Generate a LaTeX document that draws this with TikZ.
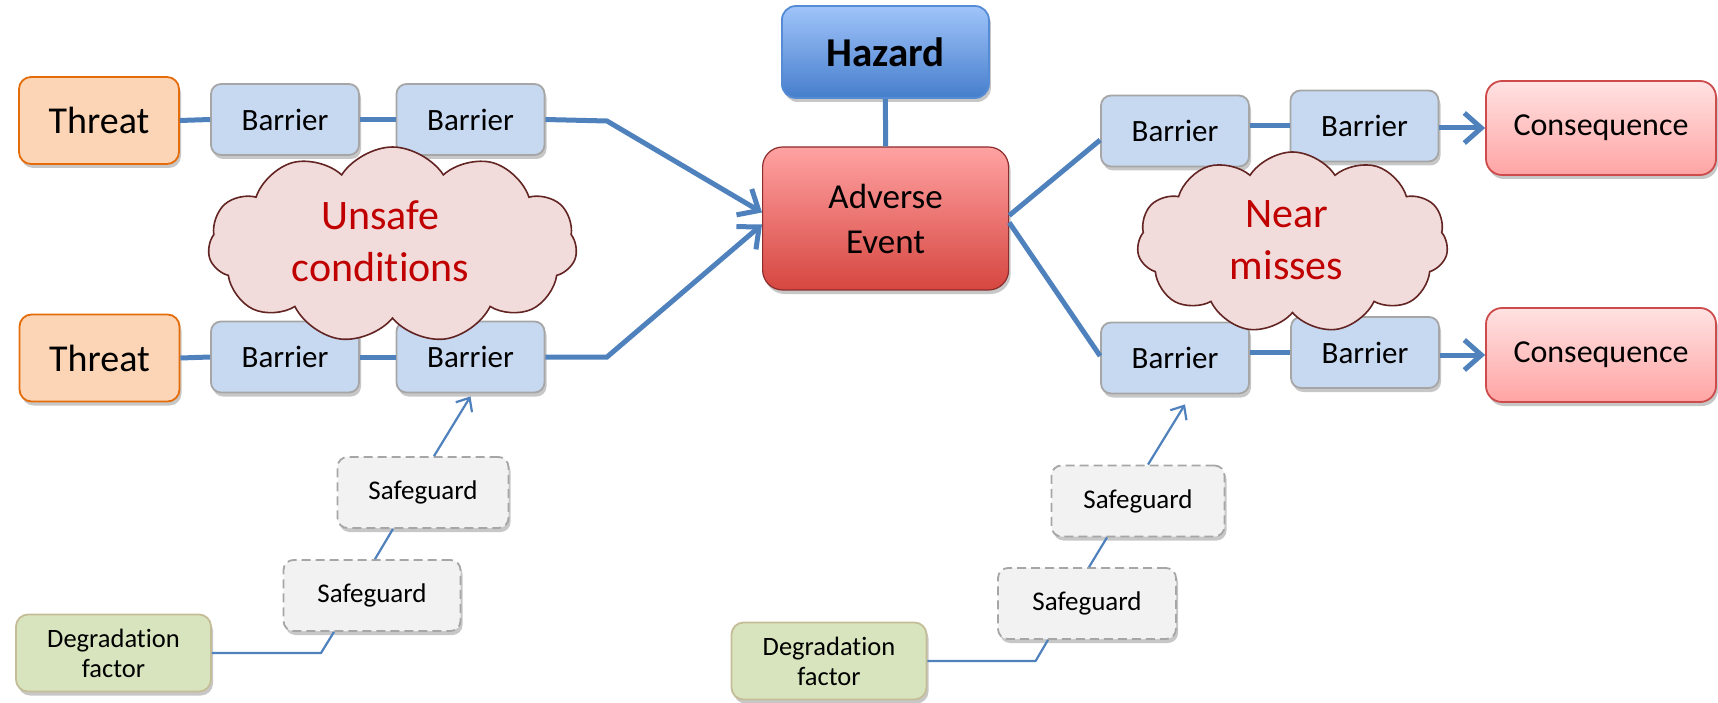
\documentclass[tikz,border=0pt]{standalone}
\usepackage{fontspec}
\setmainfont{Carlito}[Ligatures=NoCommon]
\usetikzlibrary{arrows.meta,shapes.symbols,shadows}

\definecolor{linkblue}{RGB}{79,129,189}
\definecolor{threatfill}{RGB}{251,213,181}
\definecolor{threatline}{RGB}{228,108,10}
\definecolor{barrierfill}{RGB}{198,217,241}
\definecolor{greyline}{RGB}{166,166,166}
\definecolor{hazardtop}{RGB}{160,196,250}
\definecolor{hazardbot}{RGB}{70,126,204}
\definecolor{hazardline}{RGB}{85,140,213}
\definecolor{eventtop}{RGB}{255,162,162}
\definecolor{eventbot}{RGB}{214,70,64}
\definecolor{eventline}{RGB}{140,45,45}
\definecolor{cqtop}{RGB}{255,226,226}
\definecolor{cqbot}{RGB}{255,164,164}
\definecolor{cqline}{RGB}{205,75,75}
\definecolor{cloudfill}{RGB}{242,220,219}
\definecolor{cloudline}{RGB}{99,37,35}
\definecolor{cloudtext}{RGB}{192,0,0}
\definecolor{guardfill}{RGB}{242,242,242}
\definecolor{degfill}{RGB}{215,228,189}
\definecolor{degline}{RGB}{196,189,151}

\tikzset{
  softshadow/.style={drop shadow={shadow xshift=2pt, shadow yshift=-4pt, fill=black, opacity=0.22}},
  box/.style={draw, align=center, inner sep=0pt, line width=1.8pt, softshadow},
  threatbox/.style={box, rounded corners=12pt, fill=threatfill, draw=threatline,
    minimum width=160pt, minimum height=87pt, font=\fontsize{38}{44}\selectfont},
  barrierbox/.style={box, rounded corners=10pt, fill=barrierfill, draw=greyline,
    minimum width=148pt, minimum height=71pt, font=\fontsize{31}{36}\selectfont},
  hazardbox/.style={box, rounded corners=14pt, top color=hazardtop, bottom color=hazardbot,
    draw=hazardline, minimum width=207pt, minimum height=92pt,
    font=\fontsize{41}{48}\selectfont\bfseries},
  eventbox/.style={box, rounded corners=20pt, top color=eventtop, bottom color=eventbot,
    draw=eventline, line width=1.2pt, minimum width=246pt, minimum height=143pt,
    font=\fontsize{35}{45}\selectfont},
  cqbox/.style={box, rounded corners=16pt, top color=cqtop, bottom color=cqbot,
    draw=cqline, minimum width=230pt, minimum height=94pt, font=\fontsize{32}{38}\selectfont},
  guardbox/.style={box, rounded corners=10pt, fill=guardfill, draw=greyline,
    dash pattern=on 9pt off 5pt, minimum height=71pt, font=\fontsize{27}{32}\selectfont},
  degbox/.style={box, rounded corners=12pt, fill=degfill, draw=degline,
    minimum width=195pt, minimum height=77pt, font=\fontsize{26.5}{30}\selectfont},
  puffcloud/.style={cloud, cloud puffs=11, cloud puff arc=115, draw=cloudline, fill=cloudfill,
    line width=1.6pt, inner sep=0pt},
  cloudlabel/.style={align=center, inner sep=0pt, text=cloudtext,
    font=\fontsize{42}{52}\selectfont},
  link/.style={draw=linkblue, line width=5pt},
  linkarrow/.style={link, -{Straight Barb[length=17pt, width=30pt]}},
  guardlink/.style={draw=linkblue, line width=2.2pt},
  guardarrow/.style={guardlink, -{Straight Barb[length=11pt, width=19pt]}},
}

\begin{document}
\begin{tikzpicture}[x=1pt, y=-1pt]
\useasboundingbox (0,0) rectangle (1718,703);

% threats and their barriers
\node[threatbox]  (t1)  at (99,120.5)  {Threat};
\node[threatbox]  (t2)  at (99.5,358)  {Threat};
\node[barrierbox] (b1a) at (285,119.5) {Barrier};
\node[barrierbox] (b1b) at (470.5,119.5) {Barrier};
\node[barrierbox] (b2a) at (285,357)   {Barrier};
\node[barrierbox] (b2b) at (470.5,357) {Barrier};

% hazard and top event
\node[hazardbox] (hz) at (885.4,52)    {Hazard};
\node[eventbox]  (ev) at (885.6,218.5) {Adverse\\Event};

% recovery barriers and consequences
\node[barrierbox] (r1a) at (1175,131)    {Barrier};
\node[barrierbox] (r1b) at (1364.5,126)  {Barrier};
\node[barrierbox] (r2a) at (1175,358)    {Barrier};
\node[barrierbox] (r2b) at (1365,352.5)  {Barrier};
\node[cqbox] (cq1) at (1601,128) {Consequence};
\node[cqbox] (cq2) at (1601,355) {Consequence};

% safeguards and degradation factors
\node[guardbox, minimum width=171pt] (sg1a) at (423,492.5)  {Safeguard};
\node[guardbox, minimum width=177pt] (sg1b) at (372,595.5)  {Safeguard};
\node[guardbox, minimum width=173pt] (sg2a) at (1138,501)   {Safeguard};
\node[guardbox, minimum width=178pt] (sg2b) at (1087,603.5) {Safeguard};
\node[degbox] (dg1) at (113.5,653) {Degradation\\factor};
\node[degbox] (dg2) at (829,661)   {Degradation\\factor};

% bend points
\coordinate (k1) at (607,121);
\coordinate (k2) at (607,357);
\coordinate (d1) at (321,653);
\coordinate (d2) at (1035.6,661);

% prevention side
\draw[link] (t1.east) -- (b1a.west);
\draw[link] (b1a.east) -- (b1b.west);
\draw[linkarrow] (b1b.east) -- (k1) -- ([yshift=6pt]ev.west);
\draw[link] (t2.east) -- (b2a.west);
\draw[link] (b2a.east) -- (b2b.west);
\draw[linkarrow] (b2b.east) -- (k2) -- ([yshift=-6pt]ev.west);

% hazard link
\draw[link] (hz.south) -- (ev.north);

% mitigation side
\draw[link] ([yshift=3pt]ev.east) -- ([yshift=-9pt]r1a.west);
\draw[link] ([yshift=-4pt]ev.east) -- ([yshift=2pt]r2a.west);
\draw[link] (r1a.east |- r1b.west) -- (r1b.west);
\draw[linkarrow] (r1b.east |- cq1.west) -- (cq1.west);
\draw[link] (r2a.east |- r2b.west) -- (r2b.west);
\draw[linkarrow] (r2b.east |- cq2.west) -- (cq2.west);

% degradation chains
\draw[guardlink] (dg1.east) -- (d1) -- ([xshift=-38pt]sg1b.south);
\draw[guardlink] ([xshift=3pt]sg1b.north) -- ([xshift=-30pt]sg1a.south);
\draw[guardarrow] ([xshift=11pt]sg1a.north) -- ([yshift=-3pt]b2b.south);
\draw[guardlink] (dg2.east) -- (d2) -- ([xshift=-39pt]sg2b.south);
\draw[guardlink] ([xshift=2pt]sg2b.north) -- ([xshift=-31pt]sg2a.south);
\draw[guardarrow] ([xshift=10pt]sg2a.north) -- ([xshift=10pt, yshift=-10pt]r2a.south);

% clouds lie over the barrier rows
\node[puffcloud, minimum width=369pt, minimum height=196pt] (uc) at (392.5,245) {};
\node[cloudlabel] (ucText) at ([xshift=-12pt, yshift=4pt]uc.center) {Unsafe\\conditions};
\node[puffcloud, minimum width=311pt, minimum height=181pt] (nm) at (1292.5,242.5) {};
\node[cloudlabel] (nmText) at ([xshift=-6pt, yshift=2pt]nm.center) {Near\\misses};
\end{tikzpicture}
\end{document}
